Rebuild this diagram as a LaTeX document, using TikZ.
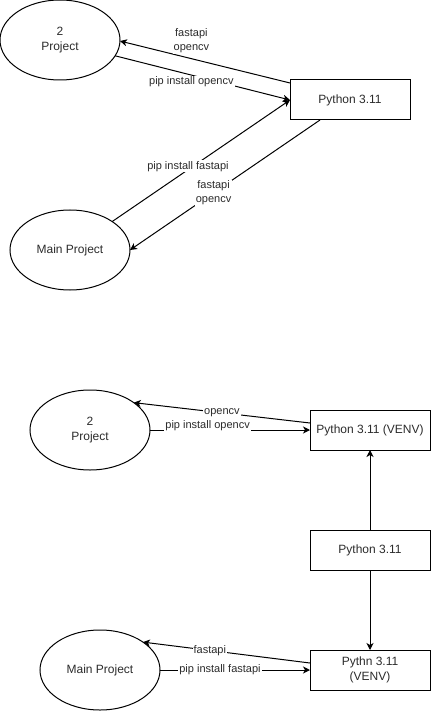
\documentclass[tikz,border=0pt]{standalone}
\usepackage{fontspec}
\setmainfont{Liberation Sans}
\usetikzlibrary{shapes.geometric,arrows.meta}
\definecolor{ink}{HTML}{2B2B2B}
\begin{document}
\begin{tikzpicture}[x=1pt,y=-1pt,
  every node/.style={font=\fontsize{12}{15}\selectfont, text=ink},
  proj/.style={draw, ellipse, line width=1pt, minimum width=120pt, minimum height=80pt,
    inner sep=0pt, outer sep=0pt, align=center},
  env/.style={draw, rectangle, line width=1pt, minimum width=120pt, minimum height=40pt,
    inner sep=0pt, outer sep=0pt, align=center},
  flow/.style={line width=1pt, -{Stealth[length=7pt,width=7pt,inset=2pt]}},
  lbl/.style={fill=white, inner sep=1pt, align=center, font=\fontsize{11}{14}\selectfont}]
\useasboundingbox (0,0) rectangle (431,711);

% --- shared interpreter ---
\node[proj] (twoA)  at (60,40)   {2\\Project};
\node[env]  (pyA)   at (350,100) {Python 3.11};
\node[proj] (mainA) at (70,250)  {Main Project};

\draw[flow] ([yshift=-3pt]pyA.north west) -- (twoA.-1)
  node[lbl, pos=0.58, yshift=17.6pt] {fastapi\\opencv};
\draw[flow] (twoA.-16) -- (pyA.west)
  node[lbl, pos=0.436, yshift=-7pt] {pip install opencv};
\draw[flow] (mainA.34) -- (pyA.west)
  node[lbl, pos=0.426, yshift=3.4pt] {pip install fastapi};
\draw[flow] ([xshift=30pt]pyA.south west) -- (mainA.east)
  node[lbl, pos=0.56] {fastapi\\opencv};

% --- one virtual environment per project ---
\node[proj] (twoB)    at (90,430)  {2\\Project};
\node[env]  (pyVenvA) at (370,430) {Python 3.11 (VENV)};
\node[env]  (pyBase)  at (370,550) {Python 3.11};
\node[env]  (pyVenvB) at (370,670) {Pythn 3.11\\(VENV)};
\node[proj] (mainB)   at (100,670) {Main Project};

\draw[flow] ([yshift=-13pt]pyVenvA.north west) -- (twoB.32)
  node[lbl, pos=0.5] {opencv};
\draw[flow] (twoB.east) -- (pyVenvA.west)
  node[lbl, pos=0.36, yshift=4pt] {pip install opencv};
\draw[flow] (pyBase) -- (pyVenvA);
\draw[flow] (pyBase) -- (pyVenvB);
\draw[flow] ([yshift=-13pt]pyVenvB.north west) -- (mainB.33)
  node[lbl, pos=0.6] {fastapi};
\draw[flow] (mainB.east) -- (pyVenvB.west)
  node[lbl, pos=0.4] {pip install fastapi};
\end{tikzpicture}
\end{document}
